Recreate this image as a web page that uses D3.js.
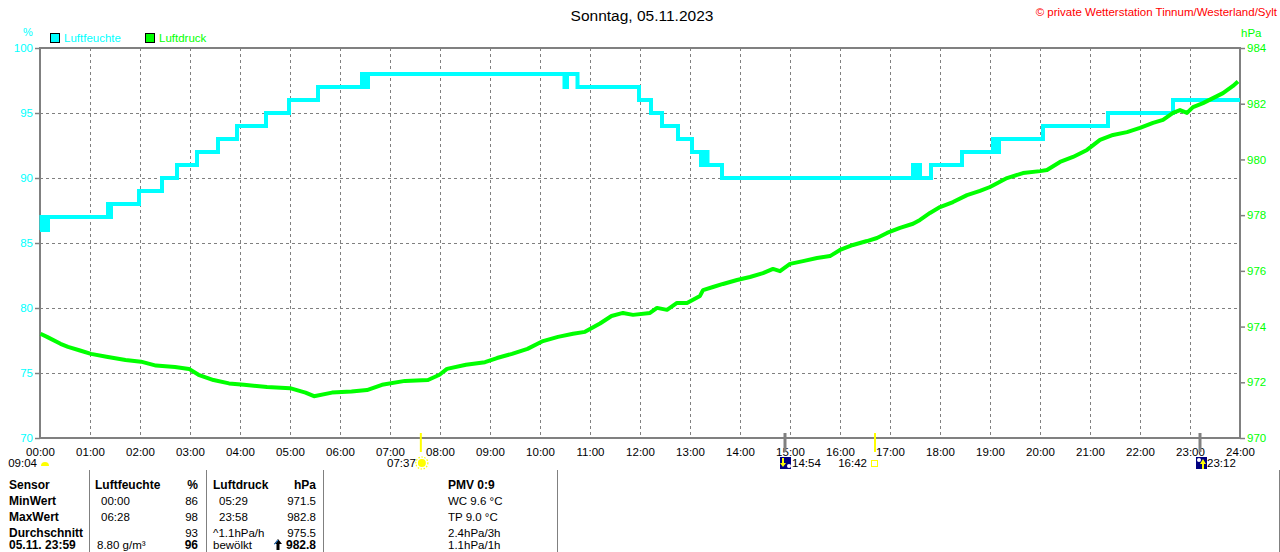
<!DOCTYPE html>
<html>
<head>
<meta charset="utf-8">
<script src="https://cdn.jsdelivr.net/npm/d3@7/dist/d3.min.js"></script>
<style>
  body { margin: 0; background: #fff; }
  svg { display: block; font-family: "Liberation Sans", Arial, sans-serif; }
</style>
</head>
<body>
<script>
'use strict';

// --- data ---
var title = "Sonntag, 05.11.2023";
var credit = "\u00a9 private Wetterstation Tinnum/Westerland/Sylt";

var hourTicks = [0,1,2,3,4,5,6,7,8,9,10,11,12,13,14,15,16,17,18,19,20,21,22,23,24];
var humTicks = [70,75,80,85,90,95,100];
var pressTicks = [970,972,974,976,978,980,982,984];

// humidity in %, [hour, value] (step after)
var humidity = [
  [0,86],[0.03,87],[0.06,86],[0.1,87],[0.13,86],[0.16,87],
  [1.36,88],[1.39,87],[1.42,88],
  [1.98,89],[2.44,90],[2.74,91],[3.14,92],[3.56,93],[3.94,94],[4.52,95],[4.98,96],[5.56,97],
  [6.44,98],[6.47,97],[6.5,98],[6.53,97],[6.56,98],
  [10.49,97],[10.54,98],[10.75,97],[11.98,96],[12.22,95],[12.44,94],[12.76,93],[13.04,92],
  [13.22,91],[13.26,92],[13.29,91],[13.32,92],[13.35,91],
  [13.64,90],[17.46,91],[17.5,90],[17.54,91],[17.6,90],[17.82,91],[18.44,92],
  [19.06,93],[19.12,92],[19.18,93],[20.06,94],[21.36,95],[22.66,96],[24,96]
];

// pressure in hPa, [hour, value]
var pressure = [
  [0.01,973.74],[0.14,973.63],[0.41,973.38],[0.56,973.27],[0.80,973.14],[1.02,973.02],
  [1.33,972.92],[1.71,972.80],[2.02,972.74],[2.32,972.60],[2.70,972.55],[2.98,972.48],
  [3.17,972.27],[3.47,972.08],[3.78,971.96],[4.08,971.91],[4.54,971.83],[5.00,971.79],
  [5.31,971.63],[5.48,971.50],[5.84,971.63],[6.23,971.67],[6.54,971.72],[6.84,971.91],
  [7.30,972.05],[7.76,972.08],[7.99,972.27],[8.14,972.48],[8.52,972.63],[8.90,972.72],
  [9.14,972.87],[9.44,973.02],[9.75,973.20],[10.06,973.48],[10.36,973.63],[10.66,973.74],
  [10.90,973.81],[11.20,974.11],[11.43,974.38],[11.66,974.49],[11.86,974.42],[12.20,974.49],
  [12.34,974.67],[12.54,974.60],[12.74,974.85],[12.94,974.85],[13.20,975.10],[13.26,975.31],
  [13.46,975.42],[13.66,975.53],[13.94,975.67],[14.20,975.78],[14.46,975.92],[14.66,976.07],
  [14.80,975.99],[15.00,976.25],[15.26,976.35],[15.54,976.46],[15.80,976.53],[16.00,976.75],
  [16.26,976.93],[16.54,977.07],[16.74,977.18],[16.94,977.36],[17.20,977.54],[17.46,977.69],
  [17.60,977.83],[17.80,978.08],[18.00,978.29],[18.26,978.47],[18.54,978.72],[18.80,978.87],
  [19.00,979.01],[19.34,979.33],[19.66,979.51],[20.00,979.58],[20.14,979.62],[20.40,979.91],
  [20.66,980.09],[20.94,980.34],[21.20,980.70],[21.46,980.88],[21.74,980.98],[22.00,981.13],
  [22.26,981.31],[22.46,981.42],[22.66,981.67],[22.80,981.77],[22.94,981.67],[23.06,981.88],
  [23.26,982.02],[23.46,982.20],[23.66,982.38],[23.86,982.64],[23.96,982.80]
];

// sun / moon events under the time axis
var events = [
  { t: 0,      label: "09:04", icon: "moonhalf", tick: false, side: "left" },
  { t: 7.617,  label: "07:37", icon: "sun",      tick: "sun",  side: "left" },
  { t: 14.9,   label: "14:54", icon: "moonset",  tick: "moon", side: "right" },
  { t: 16.7,   label: "16:42", icon: "box",      tick: "sun",  side: "left" },
  { t: 23.2,   label: "23:12", icon: "moonrise", tick: "moon", side: "right" }
];

// table below the chart
var tableLabels = ["Sensor", "MinWert", "MaxWert", "Durchschnitt", "05.11. 23:59"];
var humText   = ["Luftfeuchte", "00:00", "06:28", "", "8.80 g/m\u00b3"];
var humVals   = ["%", "86", "98", "93", "96"];
var pressText = ["Luftdruck", "05:29", "23:58", "^1.1hPa/h", "bew\u00f6lkt"];
var pressVals = ["hPa", "971.5", "982.8", "975.5", "982.8"];
var extraText = ["PMV 0:9", "WC 9.6 \u00b0C", "TP 9.0 \u00b0C", "2.4hPa/3h", "1.1hPa/1h"];

// --- drawing ---
var W = 1280, H = 552;
var cyan = "#00ffff", green = "#00ff00", gray = "#808080";

var svg = d3.select("body").append("svg").attr("width", W).attr("height", H);

var x = d3.scaleLinear().domain([0, 24]).range([40, 1240]);
var yH = d3.scaleLinear().domain([70, 100]).range([438, 48]);
var yP = d3.scaleLinear().domain([970, 984]).range([438, 48]);

// title + credit
svg.append("text").attr("x", 642).attr("y", 21).attr("text-anchor", "middle")
  .attr("font-size", "15.5px").attr("fill", "#000").text(title);
svg.append("text").attr("x", 1277).attr("y", 16).attr("text-anchor", "end")
  .attr("font-size", "11.5px").attr("fill", "#ff0000").text(credit);

// units
svg.append("text").attr("x", 23).attr("y", 36).attr("font-size", "11px").attr("fill", cyan).text("%");
svg.append("text").attr("x", 1241).attr("y", 37).attr("font-size", "11.5px").attr("fill", green).text("hPa");

// legend
var legend = [{ name: "Luftfeuchte", color: cyan, x: 50 }, { name: "Luftdruck", color: green, x: 145 }];
var lg = svg.append("g").selectAll("g").data(legend).enter().append("g")
  .attr("transform", function(d){ return "translate(" + d.x + ",0)"; });
lg.append("rect").attr("x", 0.5).attr("y", 33.5).attr("width", 9).attr("height", 9)
  .attr("fill", function(d){ return d.color; }).attr("stroke", "#000");
lg.append("text").attr("x", 14).attr("y", 42).attr("font-size", "11.5px")
  .attr("fill", function(d){ return d.color; }).text(function(d){ return d.name; });

// grid
var grid = svg.append("g").attr("stroke", gray).attr("stroke-dasharray", "3,3").attr("stroke-width", 1);
grid.selectAll("line.v").data(hourTicks.slice(1, -1)).enter().append("line")
  .attr("x1", function(d){ return x(d) + 0.5; }).attr("x2", function(d){ return x(d) + 0.5; })
  .attr("y1", 48).attr("y2", 438);
grid.selectAll("line.h").data(humTicks.slice(1, -1)).enter().append("line")
  .attr("x1", 40).attr("x2", 1240)
  .attr("y1", function(d){ return yH(d) + 0.5; }).attr("y2", function(d){ return yH(d) + 0.5; });

// axes
function styleAxis(g, color) {
  g.select(".domain").remove();
  g.selectAll(".tick line").attr("stroke", gray).attr("stroke-width", 1.5);
  g.selectAll(".tick text").attr("fill", color).attr("font-size", "11.5px")
    .attr("font-family", "Liberation Sans, Arial, sans-serif");
}
svg.append("g").attr("transform", "translate(40,0)")
  .call(d3.axisLeft(yH).tickValues(humTicks).tickSize(5).tickPadding(2))
  .call(styleAxis, cyan);
svg.append("g").attr("transform", "translate(1240,0)")
  .call(d3.axisRight(yP).tickValues(pressTicks).tickSize(5).tickPadding(2))
  .call(styleAxis, green);
svg.append("g").attr("transform", "translate(0,438)")
  .call(d3.axisBottom(x).tickValues(hourTicks).tickSize(0).tickPadding(10)
    .tickFormat(function(d){ return (d < 10 ? "0" : "") + d + ":00"; }))
  .call(styleAxis, "#000");

// frame
svg.append("path").attr("fill", "none").attr("stroke", gray).attr("stroke-width", 2)
  .attr("d", "M40,438V48H1240V438H40");

// lines
var humLine = d3.line().curve(d3.curveStepAfter)
  .x(function(d){ return x(d[0]); }).y(function(d){ return yH(d[1]); });
var pressLine = d3.line()
  .x(function(d){ return x(d[0]); }).y(function(d){ return yP(d[1]); });

svg.append("path").datum(humidity).attr("d", humLine)
  .attr("fill", "none").attr("stroke", cyan).attr("stroke-width", 4).attr("stroke-linejoin", "miter");
svg.append("path").datum(pressure).attr("d", pressLine)
  .attr("fill", "none").attr("stroke", green).attr("stroke-width", 4).attr("stroke-linejoin", "round");

// events
var ev = svg.append("g").selectAll("g").data(events).enter().append("g")
  .attr("transform", function(d){ return "translate(" + x(d.t) + ",0)"; });
ev.filter(function(d){ return d.tick; }).append("line")
  .attr("y1", 433).attr("y2", 452)
  .attr("stroke", function(d){ return d.tick === "sun" ? "#ffff00" : gray; })
  .attr("stroke-width", function(d){ return d.tick === "sun" ? 2 : 3; });
ev.append("text").attr("y", 467).attr("font-size", "11.5px").attr("fill", "#000")
  .attr("text-anchor", function(d){ return d.side === "left" ? "end" : "start"; })
  .attr("x", function(d){
    if (d.icon === "moonhalf") return -3;
    if (d.icon === "sun") return -5;
    if (d.icon === "box") return -8;
    return 7;
  })
  .text(function(d){ return d.label; });

ev.each(function(d){
  var g = d3.select(this);
  if (d.icon === "moonhalf") {
    g.append("path").attr("d", "M1,466A4,4 0 0 1 9,466Z").attr("fill", "#ffff00");
  } else if (d.icon === "sun") {
    g.append("circle").attr("cx", 1).attr("cy", 463).attr("r", 4).attr("fill", "#ffff00");
    g.append("circle").attr("cx", 1).attr("cy", 463).attr("r", 6).attr("fill", "none")
      .attr("stroke", "#ffff00").attr("stroke-width", 1.2).attr("stroke-dasharray", "1.5,1.5");
  } else if (d.icon === "box") {
    g.append("rect").attr("x", -3.5).attr("y", 460.5).attr("width", 6).attr("height", 6)
      .attr("fill", "none").attr("stroke", "#ffff00");
  } else {
    var down = d.icon === "moonset";
    g.append("rect").attr("x", down ? -5 : -4).attr("y", 457).attr("width", 11).attr("height", 12)
      .attr("fill", "#000080");
    g.append("circle").attr("cx", down ? 4 : -1).attr("cy", down ? 466 : 460).attr("r", 2).attr("fill", "#fff");
    g.append("path").attr("fill", "#ffff00")
      .attr("d", down ? "M-3,458h2v5h2l-3,4l-3,-4h2z" : "M2,469v-5h-2l3,-5l3,5h-2v5z");
  }
});

// table
var table = svg.append("g").attr("fill", "#000");
var rowY = function(i){ return i === 4 ? 549 : 489 + i * 16; };
[89, 206, 323, 557, 1279].forEach(function(sx){
  table.append("line").attr("x1", sx + 0.5).attr("x2", sx + 0.5).attr("y1", 470).attr("y2", 552)
    .attr("stroke", gray).attr("stroke-width", 1);
});
function column(data, xp, anchor, boldFn, dx) {
  table.selectAll(null).data(data).enter().append("text")
    .attr("x", function(d, i){ return xp + (dx ? dx(i) : 0); })
    .attr("y", function(d, i){ return rowY(i); })
    .attr("text-anchor", anchor)
    .attr("font-size", function(d, i){ return boldFn(i) ? "12px" : "11.5px"; })
    .attr("font-weight", function(d, i){ return boldFn(i) ? "bold" : "normal"; })
    .text(function(d){ return d; });
}
column(tableLabels, 9, "start", function(){ return true; });
column(humText, 95, "start", function(i){ return i === 0; }, function(i){ return i === 0 ? 0 : (i === 4 ? 2 : 6); });
column(humVals, 198, "end", function(i){ return i === 0 || i === 4; });
column(pressText, 213, "start", function(i){ return i === 0; }, function(i){ return (i === 1 || i === 2) ? 6 : 0; });
column(pressVals, 316, "end", function(i){ return i === 0 || i === 4; });
column(extraText, 448, "start", function(i){ return i === 0; });

// trend arrow before the current pressure
table.append("path").attr("fill", "#000")
  .attr("d", "M278,539l-4,5h2.5v6h3v-6h2.5z");
table.append("path").attr("fill", "none").attr("stroke", "#3399ff").attr("stroke-width", 1)
  .attr("d", "M274.5,544.5l3.5,-4.5");
</script>
</body>
</html>
